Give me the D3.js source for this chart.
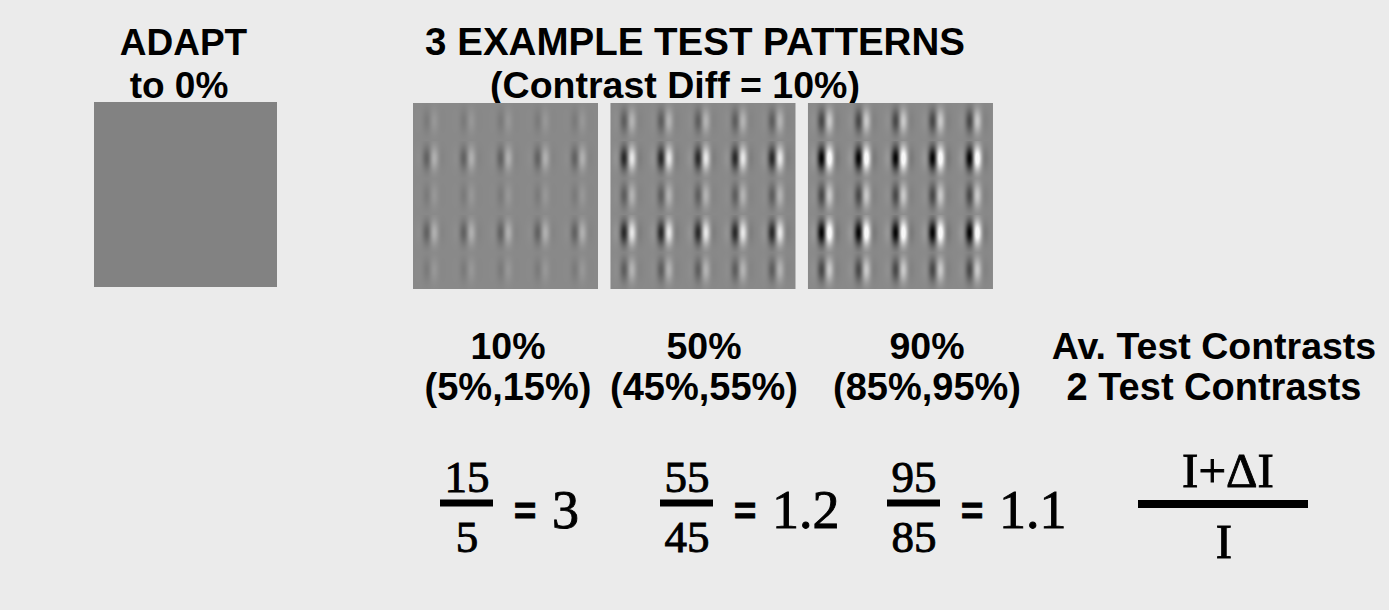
<!DOCTYPE html>
<html>
<head>
<meta charset="utf-8">
<script src="https://cdn.jsdelivr.net/npm/d3@7"></script>
<style>
  body { margin: 0; background: #ebebeb; }
  svg { display: block; }
  .sans { font-family: "Liberation Sans", Arial, Helvetica, sans-serif; font-weight: bold; }
  .serif { font-family: "Liberation Serif", "Times New Roman", serif; stroke: #000; stroke-width: 0.9; }
</style>
</head>
<body>
<div id="chart"></div>
<script>
// data
var patternNames = ["10%", "50%", "90%"];
var pairLabels = ["(5%,15%)", "(45%,55%)", "(85%,95%)"];
// visual peak amplitude of the patches (weak rows / strong rows)
var weakAmp = [0.10, 0.31, 0.46];
var strongAmp = [0.28, 0.70, 0.96];
var rowKind = ["weak", "strong", "weak", "strong", "weak"];
var gridCols = 5;
var numerators = ["15", "55", "95"];
var denominators = ["5", "45", "85"];
var ratios = ["3", "1.2", "1.1"];
var lastHeader = ["Av. Test Contrasts", "2 Test Contrasts"];

var width = 1389, height = 610;

var svg = d3.select("#chart").append("svg")
  .attr("width", width)
  .attr("height", height);

svg.append("rect")
  .attr("width", width)
  .attr("height", height)
  .attr("fill", "#ebebeb");

// adapt field
svg.append("rect")
  .attr("x", 94).attr("y", 102)
  .attr("width", 183).attr("height", 185)
  .attr("fill", "#828282");

function title(txt, x, y, size) {
  svg.append("text")
    .attr("class", "sans")
    .attr("x", x).attr("y", y)
    .attr("text-anchor", "middle")
    .attr("font-size", size)
    .text(txt);
}
title("ADAPT", 183.5, 55, 37);
title("to 0%", 179, 98, 37);
title("3 EXAMPLE TEST PATTERNS", 695, 55, 38.5);
title("(Contrast Diff = 10%)", 675, 98, 37.5);

// test patterns
var px = d3.scaleBand()
  .domain(patternNames)
  .range([413, 993])
  .paddingInner(0.063);

var pw = Math.round(px.bandwidth()), ph = 186;

var gx = d3.scaleBand().domain(d3.range(gridCols)).range([0, pw]);
var gy = d3.scaleBand().domain(d3.range(rowKind.length)).range([0, ph]);

var lambda = 20, sx = 6, sy = 8.5;
// peak of the gabor, to normalise
var gmax = 0;
for (var t = 0; t < 20; t += 0.05) {
  var v = Math.sin(2 * Math.PI * t / lambda) * Math.exp(-t * t / (2 * sx * sx));
  if (v > gmax) gmax = v;
}
var bg = 137;

patternNames.forEach(function(name, k) {
  var canvas = document.createElement("canvas");
  canvas.width = pw; canvas.height = ph;
  var ctx = canvas.getContext("2d");
  var img = ctx.createImageData(pw, ph);
  for (var y = 0; y < ph; y++) {
    var r = Math.min(rowKind.length - 1, Math.floor(y / gy.bandwidth()));
    var amp = rowKind[r] == "strong" ? strongAmp[k] : weakAmp[k];
    var cy = gy(r) + gy.bandwidth() / 2 - 1;
    for (var x = 0; x < pw; x++) {
      var c = Math.min(gridCols - 1, Math.floor(x / gx.bandwidth()));
      var cx = gx(c) + gx.bandwidth() / 2 - 1.5;
      var dx = x - cx, dy = y - cy;
      var g = Math.sin(2 * Math.PI * dx / lambda) *
        Math.exp(-dx * dx / (2 * sx * sx) - dy * dy / (2 * sy * sy)) / gmax;
      var val = Math.max(0, Math.min(248, bg + 137 * amp * g));
      var i = (y * pw + x) * 4;
      img.data[i] = img.data[i + 1] = img.data[i + 2] = val;
      img.data[i + 3] = 255;
    }
  }
  ctx.putImageData(img, 0, 0);
  svg.append("image")
    .attr("x", px(name))
    .attr("y", 103)
    .attr("width", pw)
    .attr("height", ph)
    .attr("href", canvas.toDataURL());
});

// labels under patterns
var labelX = d3.scaleOrdinal()
  .domain(d3.range(4))
  .range([508, 704, 927, 1214]);

var line1 = patternNames.concat([lastHeader[0]]);
var line2 = pairLabels.concat([lastHeader[1]]);

svg.selectAll(".lab1")
  .data(line1)
  .enter().append("text")
  .attr("class", "sans lab1")
  .attr("x", function(d, i) { return labelX(i); })
  .attr("y", 359)
  .attr("text-anchor", "middle")
  .attr("font-size", 37.5)
  .text(function(d) { return d; });

svg.selectAll(".lab2")
  .data(line2)
  .enter().append("text")
  .attr("class", "sans lab2")
  .attr("x", function(d, i) { return labelX(i); })
  .attr("y", 400)
  .attr("text-anchor", "middle")
  .attr("font-size", 38)
  .text(function(d) { return d; });

// ratios
var fracX = d3.scaleOrdinal()
  .domain(d3.range(3))
  .range([466, 686, 913]);

var frac = svg.selectAll(".frac")
  .data(ratios)
  .enter().append("g")
  .attr("class", "frac")
  .attr("transform", function(d, i) { return "translate(" + fracX(i) + ",0)"; });

frac.append("text")
  .attr("class", "serif")
  .attr("x", 1)
  .attr("y", 492)
  .attr("text-anchor", "middle")
  .attr("font-size", 45)
  .text(function(d, i) { return numerators[i]; });

frac.append("rect")
  .attr("x", -26).attr("y", 499.5)
  .attr("width", 53).attr("height", 7)
  .attr("fill", "#000");

frac.append("text")
  .attr("class", "serif")
  .attr("x", 1)
  .attr("y", 552)
  .attr("text-anchor", "middle")
  .attr("font-size", 45)
  .text(function(d, i) { return denominators[i]; });

frac.append("text")
  .attr("class", "sans")
  .attr("x", 48)
  .attr("y", 524)
  .attr("font-size", 38)
  .attr("stroke", "#000")
  .attr("stroke-width", 1)
  .text("=");

frac.append("text")
  .attr("class", "serif")
  .attr("x", 86)
  .attr("y", 528)
  .attr("font-size", 54)
  .text(function(d) { return d; });

// weber fraction
var w = svg.append("g").attr("transform", "translate(1223,0)");
w.append("text")
  .attr("class", "serif")
  .attr("x", 5).attr("y", 487)
  .attr("text-anchor", "middle")
  .attr("font-size", 49)
  .text("I+ΔI");
w.append("rect")
  .attr("x", -85).attr("y", 500)
  .attr("width", 170).attr("height", 8)
  .attr("fill", "#000");
w.append("text")
  .attr("class", "serif")
  .attr("x", 1).attr("y", 558)
  .attr("text-anchor", "middle")
  .attr("font-size", 49)
  .text("I");
</script>
</body>
</html>
